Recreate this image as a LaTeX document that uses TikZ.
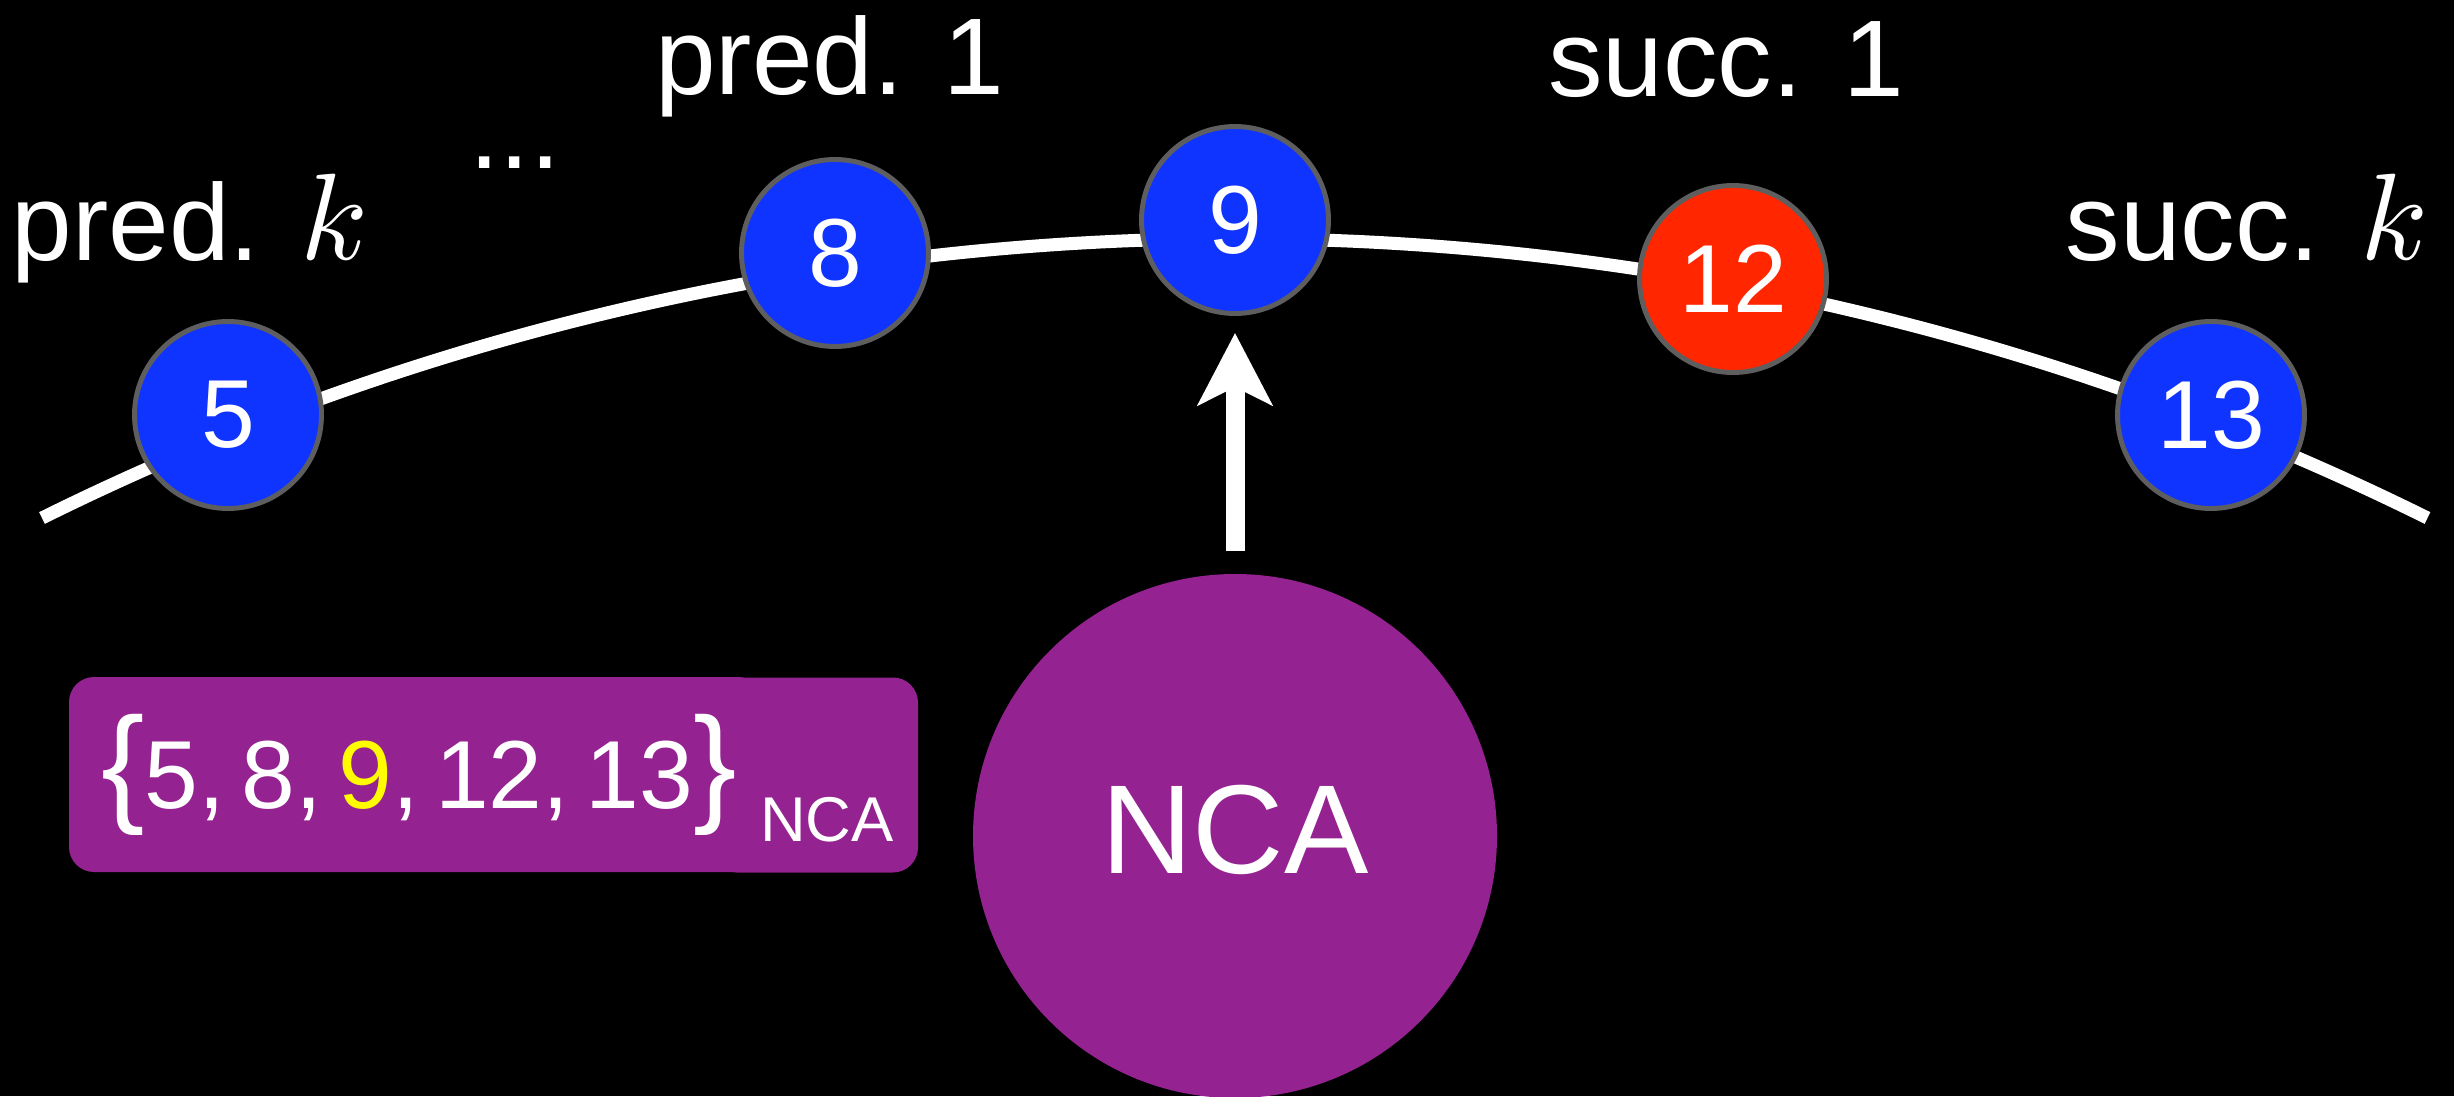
\documentclass[tikz,border=0pt]{standalone}
\usepackage{fontspec}
\setmainfont{Liberation Sans}
\setsansfont{Liberation Sans}
\usepackage{tikz}
\usetikzlibrary{arrows.meta}

\definecolor{blueberry}{RGB}{16,52,255}
\definecolor{maraschino}{RGB}{255,38,0}
\definecolor{plum}{RGB}{148,34,144}
\definecolor{lemon}{RGB}{255,251,0}
\definecolor{rimgray}{RGB}{94,94,94}

\begin{document}
\begin{tikzpicture}[
   font=\sffamily,
   peer/.style={circle,draw=rimgray,line width=1.4pt,fill=blueberry,text=white,inner sep=0pt,minimum size=1.87cm,font=\sffamily\fontsize{27.5}{30}\selectfont},
   closest/.style={peer,fill=maraschino},
   tag/.style={text=white,anchor=base,inner sep=0pt,font=\sffamily\fontsize{31}{36}\selectfont},
   setbox/.style={fill=plum,rounded corners=0.25cm,minimum height=1.95cm,inner sep=0pt},
   ring/.style={white,line width=0.13cm},
   lookup/.style={-{Stealth[length=0.72cm,width=0.74cm,inset=0.18cm]},white,line width=0.19cm,shorten >=0.17cm,shorten <=0.22cm}]
\fill[black] (0,0) rectangle (24.54,10.96);
\useasboundingbox (0,0) rectangle (24.54,10.96);
\newcommand{\bigk}{{\fontsize{10}{12}\selectfont\scalebox{3.5}{$k$}}}
\newcommand{\bigbrace}[1]{{\fontsize{37}{40}\selectfont#1}}

% the ring
\coordinate (ringL) at (0.42,5.78);
\draw[ring] (ringL) arc[start angle=116.37,end angle=63.63,radius=26.855];

% peers on the ring
\node[peer] (n5) at (2.28,6.81) {5};
\node[peer] (n8) at (8.35,8.43) {8};
\node[peer] (n9) at (12.35,8.76) {9};
\node[closest] (n12) at (17.33,8.17) {12};
\node[peer] (n13) at (22.11,6.81) {13};

\node[tag] (predk) at (1.90,8.36) {pred. \bigk};
\node[tag] (dots) at (5.15,9.28) {...};
\node[tag] (pred1) at (8.30,10.01) {pred. 1};
\node[tag] (succ1) at (17.26,9.99) {succ. 1};
\node[tag] (succk) at (22.47,8.36) {succ. \bigk};

% NCA and its view
\node[circle,fill=plum,text=white,minimum size=5.24cm,text depth=0.14cm,font=\sffamily\fontsize{36}{40}\selectfont] (nca) at (12.35,2.60) {NCA};
\draw[lookup] (nca) -- (n9);

\node[setbox,minimum width=2.06cm] (setsub) at (8.15,3.21) {};
\node[setbox,minimum width=6.94cm,text=white,font=\sffamily\fontsize{27.5}{30}\selectfont] (set) at (4.16,3.215)
   {\hspace*{0.06cm}\bigbrace{\{}5,\,8,\,\textcolor{lemon}{9},\,12,\,13\bigbrace{\}}};
\node[text=white,anchor=base,inner sep=0pt,font=\sffamily\fontsize{18}{20}\selectfont] (setname) at (8.27,2.55) {NCA};
\end{tikzpicture}
\end{document}
